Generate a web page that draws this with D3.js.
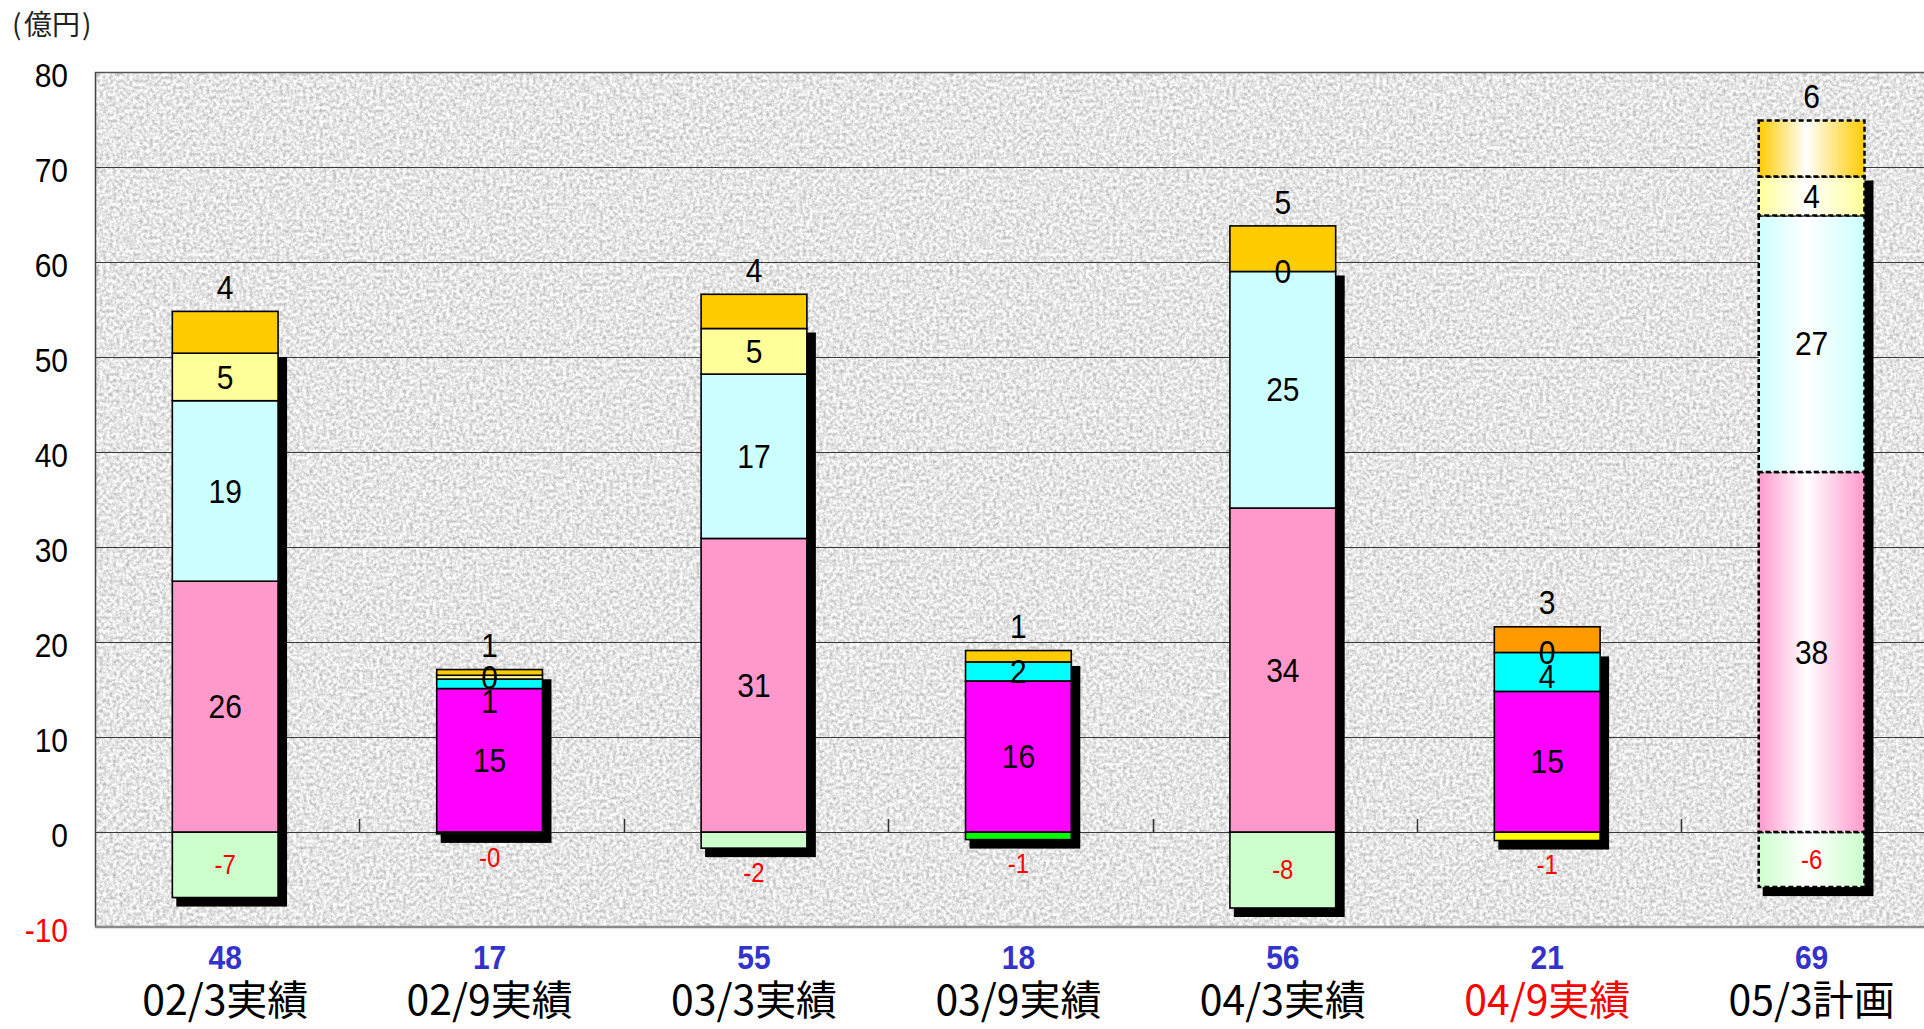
<!DOCTYPE html>
<html><head><meta charset="utf-8">
<script src="https://cdn.jsdelivr.net/npm/d3@7"></script>
<style>html,body{margin:0;padding:0;background:#fff;overflow:hidden}</style>
</head><body>
<svg id="chart" width="1924" height="1029"></svg>
<script>
// ---- data ----
const categories = ["02/3実績","02/9実績","03/3実績","03/9実績","04/3実績","04/9実績","05/3計画"];
const totals     = [48, 17, 55, 18, 56, 21, 69];
const negPart    = [-6.9, -0.2, -1.7, -0.8, -8.0, -0.9, -5.8];
const pinkPart   = [26.4, 15.1, 30.9, 15.9, 34.1, 14.8, 37.9];
const cyanPart   = [19.0, 1.0, 17.3, 2.0, 24.9, 4.1, 27.0];
const yellowPart = [5.0, 0.4, 4.8, null, 0.0, 0.0, 4.1];
const orangePart = [4.4, 0.6, 3.6, 1.2, 4.8, 2.7, 5.9];
const yTicks     = [-10, 0, 10, 20, 30, 40, 50, 60, 70, 80];

// ---- styles ----
const seriesKeys = ["pink","cyan","yellow","orange"];
const seriesData = {neg:negPart, pink:pinkPart, cyan:cyanPart, yellow:yellowPart, orange:orangePart};
const palettes = {
  pastel:{neg:"#ccffcc", pink:"#ff99cc", cyan:"#ccffff", yellow:"#ffff99", orange:"#ffcc00"},
  vivid: {neg:"#00ff00", pink:"#ff00ff", cyan:"#00ffff", yellow:"#ffff99", orange:"#ffcc00"},
  vivid2:{neg:"#ffff00", pink:"#ff00ff", cyan:"#00ffff", yellow:"#ffff99", orange:"#ff9900"},
  plan:  {neg:"#ccffcc", pink:"#ff99cc", cyan:"#ccffff", yellow:"#ffff99", orange:"#ffcc00"}
};
const barStyle = ["pastel","vivid","pastel","vivid","pastel","vivid2","plan"];
const catColor = ["#000","#000","#000","#000","#000","#ff0000","#000"];

const svg = d3.select("#chart");
const defs = svg.append("defs");
const L = 95, T = 72, B = 927, R = 1924;
const y = d3.scaleLinear().domain([-10, 80]).range([B, T]);
const x = d3.scaleBand().domain(categories).range([L, L + 7 * 264.4]).padding(0);
const bw = x.bandwidth() * 0.4;
const barX = c => x(c) + (x.bandwidth() - bw) / 2 - 2;
const SY = 1.12;
const NUMFONT = "'Liberation Sans', Arial, sans-serif";

// granite texture
const f = defs.append("filter").attr("id","granite").attr("x",0).attr("y",0).attr("width",1).attr("height",1)
  .attr("color-interpolation-filters","sRGB");
f.append("feTurbulence").attr("type","fractalNoise").attr("baseFrequency","0.3").attr("numOctaves",3).attr("seed",5);
f.append("feColorMatrix").attr("type","matrix")
  .attr("values","0.5 0 0 0 0.65  0.5 0 0 0 0.65  0.5 0 0 0 0.65  0 0 0 0 1");

// gradients for plan bar
Object.entries(palettes.plan).forEach(([k,col]) => {
  const g = defs.append("linearGradient").attr("id","grad-"+k).attr("x1","0").attr("x2","1").attr("y1","0").attr("y2","0");
  g.append("stop").attr("offset","0%").attr("stop-color",col);
  g.append("stop").attr("offset","45%").attr("stop-color","#ffffff");
  g.append("stop").attr("offset","100%").attr("stop-color",col);
});

svg.append("rect").attr("x",L).attr("y",T).attr("width",R-L).attr("height",B-T).attr("fill","#e4e4e4");
svg.append("rect").attr("x",L).attr("y",T).attr("width",R-L).attr("height",B-T).attr("filter","url(#granite)");

// gridlines
svg.append("g").selectAll("line").data(yTicks.filter(t => t > -10 && t < 80)).join("line")
  .attr("x1",L).attr("x2",R).attr("y1",d=>Math.round(y(d))+0.5).attr("y2",d=>Math.round(y(d))+0.5)
  .attr("stroke","#3a3a3a").attr("stroke-width",1);
// frame
svg.append("line").attr("x1",L).attr("x2",R).attr("y1",T+0.5).attr("y2",T+0.5).attr("stroke","#555").attr("stroke-width",1.5);
svg.append("line").attr("x1",L+0.5).attr("x2",L+0.5).attr("y1",T).attr("y2",B).attr("stroke","#444").attr("stroke-width",1.5);
svg.append("line").attr("x1",L).attr("x2",R).attr("y1",B).attr("y2",B).attr("stroke","#8a8a8a").attr("stroke-width",2.5);
// category ticks on zero line
svg.append("g").selectAll("line").data(categories.slice(1)).join("line")
  .attr("x1",d=>Math.round(x(d))+0.5).attr("x2",d=>Math.round(x(d))+0.5)
  .attr("y1",y(0)-13).attr("y2",y(0)).attr("stroke","#333").attr("stroke-width",1.5);

function txt(g, px, py, s, o) {
  return g.append("text").attr("transform",`translate(${px},${py}) scale(1,${o.sy||SY})`)
    .attr("text-anchor",o.anchor||"middle").attr("dominant-baseline",o.base||"central")
    .attr("font-family",o.family||NUMFONT)
    .attr("font-size",o.size).attr("font-weight",o.weight||"normal")
    .attr("fill",o.fill||"#000").text(s);
}
const fmt = v => v < 0 ? "-" + Math.abs(v).toFixed(0) : v.toFixed(0);

// build stacks
const stacks = categories.map((c, i) => {
  let top = 0; const segs = [];
  seriesKeys.forEach(k => {
    const v = seriesData[k][i];
    const val = v == null ? 0 : v;
    segs.push({key:k, v, y0:top, y1:top + val});
    top += val;
  });
  const nv = negPart[i];
  segs.unshift({key:"neg", v:nv, y0:nv, y1:0});
  return {c, i, segs, top, bottom:nv};
});

const gShadow = svg.append("g"), gBars = svg.append("g"), gLab = svg.append("g");
stacks.forEach(st => {
  const bx = barX(st.c);
  const cx = bx + bw/2;
  const noOrangeTop = st.top - orangePart[st.i];
  gShadow.append("rect").attr("x",bx+4).attr("width",bw+5)
    .attr("y",y(noOrangeTop)+4).attr("height",y(st.bottom)+9 - (y(noOrangeTop)+4)).attr("fill","#000");
  const style = barStyle[st.i];
  const labels = [];
  st.segs.forEach(s => {
    if (s.v == null) return;
    const yTop = y(Math.max(s.y0,s.y1)), yBot = y(Math.min(s.y0,s.y1));
    const h = yBot - yTop;
    if (h > 0.3) {
      gBars.append("rect").attr("x",bx).attr("y",yTop).attr("width",bw).attr("height",h)
        .attr("fill", style === "plan" ? `url(#grad-${s.key})` : palettes[style][s.key])
        .attr("stroke","#000").attr("stroke-width", style === "plan" ? 2.5 : 1.6)
        .attr("stroke-dasharray", style === "plan" ? "5,3" : null);
    }
    if (s.key === "orange") labels.push({y:yTop - 24, s:fmt(s.v), size:30, fill:"#000"});
    else if (s.key === "neg") labels.push({y: h < 30 ? yBot + 24 : (yTop + yBot)/2, s:fmt(s.v), size:24, fill:"#ff0000", neg:true});
    else labels.push({y:(yTop + yBot)/2, s:fmt(s.v), size:30, fill:"#000"});
  });
  // avoid label collisions within a bar (top to bottom)
  const pos = labels.filter(l => !l.neg).sort((a,b) => a.y - b.y);
  for (let k = 1; k < pos.length; k++) if (pos[k].y - pos[k-1].y < 24) pos[k].y = pos[k-1].y + 24;
  labels.forEach(l => txt(gLab, cx, l.y, l.s, {size:l.size, fill:l.fill}));
});

// y axis labels
yTicks.forEach(t => {
  txt(svg, 68, y(t) + 3, String(t), {size:30, anchor:"end", fill: t < 0 ? "#ff0000" : "#000"});
});
// unit label
const unit = svg.append("text").attr("y",35).attr("font-family","'Noto Sans CJK JP', sans-serif")
  .attr("font-size",28).attr("fill","#222");
unit.append("tspan").attr("x",12).text("(");
unit.append("tspan").attr("x",24).text("億円");
unit.append("tspan").attr("x",82).text(")");

// totals and category labels
categories.forEach((c, i) => {
  const cx = barX(c) + bw/2;
  txt(svg, cx, 957, String(totals[i]), {size:30, weight:"bold", fill:"#3333cc"});
  svg.append("text").attr("transform",`translate(${cx},1015) scale(1,${SY})`)
    .attr("text-anchor","middle").attr("font-family","'Noto Sans CJK JP', sans-serif")
    .attr("font-size",37).attr("fill",catColor[i])
    .attr("textLength",166).attr("lengthAdjust","spacingAndGlyphs").text(c);
});
</script>
</body></html>
